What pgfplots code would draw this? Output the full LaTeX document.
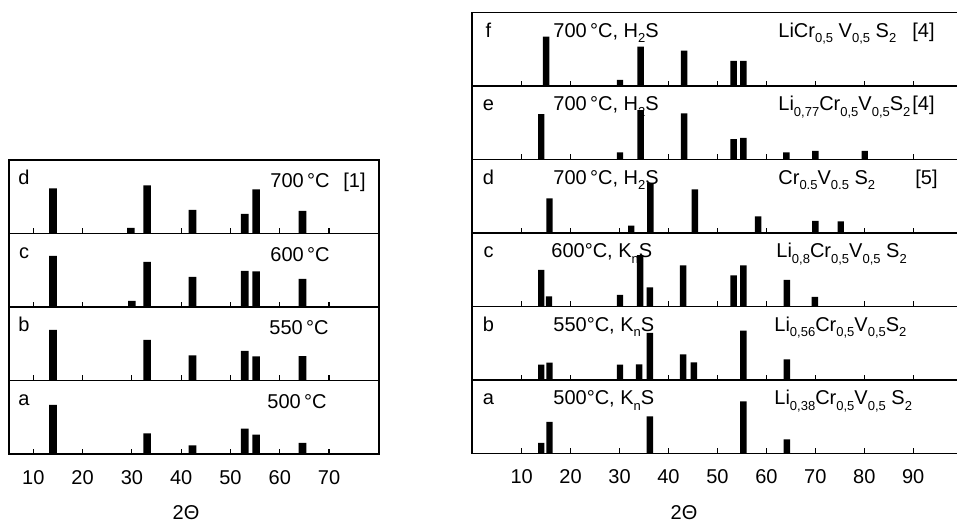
\documentclass[border=0pt]{standalone}
\usepackage{pgfplots}
\pgfplotsset{compat=1.18}
\usepackage{fontspec}
\setmainfont{Liberation Sans}
\newcommand\sub[1]{\raisebox{-0.5ex}{\fontsize{6.5}{7}\selectfont #1}}

\pgfplotsset{
  panel/.style={scale only axis, anchor=south west, height=36.75pt,
    ymin=0, ymax=73.5, ytick=\empty, ybar, bar shift=0pt,
    xtick pos=bottom, tick align=inside, major tick length=2.6pt,
    axis line style={line width=0.9pt, black},
    tick style={line width=0.6pt, black},
    /pgf/number format/assume math mode=true,
    xticklabel style={font=\fontsize{10}{12}\selectfont, yshift=-4.6pt},
  },
  leftp/.style={panel, xmin=5, xmax=80.2, width=185.35pt, xtick={10,20,...,70}, bar width=3.8pt},
  rightp/.style={panel, xmin=-0.2, xmax=99.5, width=244pt, xtick={10,20,...,90}, bar width=3.2pt},
  nolab/.style={xticklabels={,,}},
}

\begin{document}
\begin{tikzpicture}
\useasboundingbox (0,0) rectangle (478.5pt,261pt);

% ---------- left stack ----------
\begin{axis}[leftp, nolab, at={(4.325pt,144.25pt)}]
\addplot[fill=black, draw=none] coordinates {(14,45) (29.8,5.6) (33.1,48) (42.3,23.6) (52.9,19.6) (55.2,44) (64.6,22.6)};
\end{axis}
\begin{axis}[leftp, nolab, at={(4.325pt,107.5pt)}]
\addplot[fill=black, draw=none] coordinates {(14,51) (30,6) (33.1,45) (42.3,30) (52.9,36) (55.2,35.7) (64.6,28)};
\end{axis}
\begin{axis}[leftp, nolab, at={(4.325pt,70.75pt)}]
\addplot[fill=black, draw=none] coordinates {(14,50.7) (33.1,40.7) (42.3,25) (52.9,29.7) (55.2,24) (64.6,24.3)};
\end{axis}
\begin{axis}[leftp, at={(4.325pt,34pt)}]
\addplot[fill=black, draw=none] coordinates {(14,49) (33.1,20.7) (42.3,8.7) (52.9,25.3) (55.2,19.3) (64.6,11)};
\end{axis}

% ---------- right stack ----------
\begin{axis}[rightp, nolab, at={(235.85pt,218pt)}]
\addplot[fill=black, draw=none] coordinates {(15,49.3) (30.1,6) (34.3,39.3) (43.2,35.3) (53.3,25) (55.3,25)};
\end{axis}
\begin{axis}[rightp, nolab, at={(235.85pt,181.25pt)}]
\addplot[fill=black, draw=none] coordinates {(14,45.3) (30.1,7) (34.3,49.3) (43.2,46) (53.3,20.3) (55.3,21.7) (64.1,7) (70,8.7) (80.1,8.7)};
\end{axis}
\begin{axis}[rightp, nolab, at={(235.85pt,144.5pt)}]
\addplot[fill=black, draw=none] coordinates {(15.7,34.7) (32.4,7.3) (36.3,50) (45.4,43.7) (58.3,16.7) (70,12) (75.2,11.7)};
\end{axis}
\begin{axis}[rightp, nolab, at={(235.85pt,107.75pt)}]
\addplot[fill=black, draw=none] coordinates {(14,36.7) (15.6,10) (30.1,11.7) (34.2,51.3) (36.2,19) (43,41) (53.3,31) (55.3,41) (64.2,26.7) (69.9,9.7)};
\end{axis}
\begin{axis}[rightp, nolab, at={(235.85pt,71pt)}]
\addplot[fill=black, draw=none] coordinates {(14,15.3) (15.7,17.3) (30.1,15.3) (34,15.7) (36.2,47) (43,25.7) (45.2,17.7) (55.3,49.3) (64.2,20.7)};
\end{axis}
\begin{axis}[rightp, at={(235.85pt,34.25pt)}]
\addplot[fill=black, draw=none] coordinates {(14,10.7) (15.7,31.7) (36.2,37) (55.3,52) (64.2,14)};
\end{axis}

% ---------- texts ----------
\begin{scope}[x=0.5pt, y=-0.5pt, yshift=261pt, every node/.style={inner sep=0pt, font=\fontsize{10}{12}\selectfont}]
% left letters
\node[anchor=base] at (24,185) {d};
\node[anchor=base] at (24,258.5) {c};
\node[anchor=base] at (24,332) {b};
\node[anchor=base] at (24,405.5) {a};
% left temperatures
\node[anchor=base west] at (270,188) {700\,°C};
\node[anchor=base west] at (343,188) {[1]};
\node[anchor=base west] at (270,261.5) {600\,°C};
\node[anchor=base west] at (269,335) {550\,°C};
\node[anchor=base west] at (267,408.5) {500\,°C};
% right letters
\node[anchor=base] at (488.5,37.5) {f};
\node[anchor=base] at (488.5,111) {e};
\node[anchor=base] at (488.5,184.5) {d};
\node[anchor=base] at (488.5,258) {c};
\node[anchor=base] at (488.5,331.5) {b};
\node[anchor=base] at (488.5,405) {a};
% right conditions
\node[anchor=base west] at (553,37.5) {700\,°C, H\sub{2}S};
\node[anchor=base west] at (553,111) {700\,°C, H\sub{2}S};
\node[anchor=base west] at (553,184.5) {700\,°C, H\sub{2}S};
\node[anchor=base west] at (551,258) {600°C, K\sub{n}S};
\node[anchor=base west] at (553,331.5) {550°C, K\sub{n}S};
\node[anchor=base west] at (553,405) {500°C, K\sub{n}S};
% right formulas
\node[anchor=base west] at (778,37.5) {LiCr\sub{0,5} V\sub{0,5} S\sub{2}};
\node[anchor=base west] at (778,111) {Li\sub{0,77}Cr\sub{0,5}V\sub{0,5}S\sub{2}};
\node[anchor=base west] at (778,184.5) {Cr\sub{0.5}V\sub{0.5} S\sub{2}};
\node[anchor=base west] at (776,258) {Li\sub{0,8}Cr\sub{0,5}V\sub{0,5} S\sub{2}};
\node[anchor=base west] at (774,331.5) {Li\sub{0,56}Cr\sub{0,5}V\sub{0,5}S\sub{2}};
\node[anchor=base west] at (774,405) {Li\sub{0,38}Cr\sub{0,5}V\sub{0,5} S\sub{2}};
\node[anchor=base west] at (912,37.5) {[4]};
\node[anchor=base west] at (912,111) {[4]};
\node[anchor=base west] at (915,184.5) {[5]};
% axis titles
\node[anchor=base] at (186,520) {2Θ};
\node[anchor=base] at (684,520) {2Θ};
\end{scope}
\end{tikzpicture}
\end{document}
